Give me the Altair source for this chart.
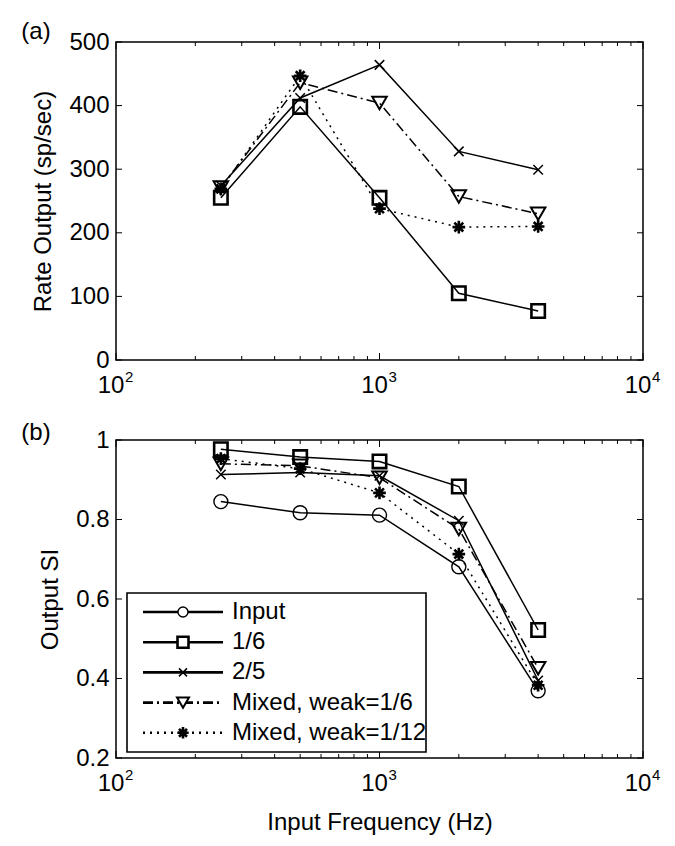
import altair as alt
import pandas as pd

# ---------------- data ----------------
freqs = [250, 500, 1000, 2000, 4000]

# (a) rate output, sp/sec
rate_1_6 = [255, 398, 255, 105, 77]
rate_2_5 = [274, 412, 464, 328, 299]
rate_mixed_6 = [271, 436, 404, 257, 230]
rate_mixed_12 = [269, 447, 238, 209, 210]

# (b) output SI
si_input = [0.845, 0.817, 0.811, 0.681, 0.369]
si_1_6 = [0.977, 0.957, 0.946, 0.883, 0.522]
si_2_5 = [0.913, 0.918, 0.910, 0.797, 0.395]
si_mixed_6 = [0.940, 0.935, 0.905, 0.776, 0.426]
si_mixed_12 = [0.953, 0.928, 0.867, 0.713, 0.383]

series_names = ["Input", "1/6", "2/5", "Mixed, weak=1/6", "Mixed, weak=1/12"]

x_major = [100, 1000, 10000]
x_bases = ["10", "10", "10"]
x_exponents = ["2", "3", "4"]
x_minor = [200, 300, 400, 500, 600, 700, 800, 900,
           2000, 3000, 4000, 5000, 6000, 7000, 8000, 9000]
rate_ticks = [0, 100, 200, 300, 400, 500]
si_ticks = [0.2, 0.4, 0.6, 0.8, 1.0]

# ---------------- styling ----------------
W, H = 527, 318
FONT = "Liberation Sans"
XPATH = "M-1,-1L1,1M-1,1L1,-1"
STARPATH = "M-1,0L1,0M0,-1L0,1M-0.7,-0.7L0.7,0.7M-0.7,0.7L0.7,-0.7"

STYLE = {
    "Input": dict(dash=None, shape="circle", size=196, sw=1.4, lsize=100),
    "1/6": dict(dash=None, shape="square", size=180, sw=2.6, lsize=121),
    "2/5": dict(dash=None, shape=XPATH, size=90, sw=1.5, lsize=64),
    "Mixed, weak=1/6": dict(dash=[10, 4, 2, 4], shape="triangle-down", size=210, sw=2.0, lsize=144),
    "Mixed, weak=1/12": dict(dash=[2, 5], shape=STARPATH, size=160, sw=2.6, lsize=130),
}

xs = alt.Scale(type="log", domain=[100, 10000])


def panel(series, y_domain, y_ticks, y_title, y_title_x, y_label_expr,
          panel_label, panel_label_y, x_title, with_legend):
    ys = alt.Scale(domain=y_domain, zero=False, nice=False)
    x_axis_kw = dict(values=x_major, labels=False,
                     ticks=False, domain=False, grid=False)
    if x_title:
        x_axis_kw.update(title=x_title, titleY=64, titleBaseline="middle")
    else:
        x_axis_kw.update(title=None)
    x_axis = alt.Axis(**x_axis_kw)
    y_axis = alt.Axis(values=y_ticks, labelExpr=y_label_expr, labelPadding=7,
                      ticks=False, domain=False, grid=False, title=y_title,
                      titleX=y_title_x, titleY=H / 2, titleAngle=-90,
                      titleBaseline="middle", titleAlign="center")

    def X():
        return alt.X("freq:Q", scale=xs, axis=x_axis)

    def Y():
        return alt.Y("val:Q", scale=ys, axis=y_axis)

    layers = []
    for name, vals in series:
        st = STYLE[name]
        df = pd.DataFrame({"freq": freqs, "val": vals})
        line_kw = dict(color="black", strokeWidth=1.5)
        if st["dash"]:
            line_kw["strokeDash"] = st["dash"]
        layers.append(alt.Chart(df).mark_line(**line_kw).encode(x=X(), y=Y()))
        layers.append(alt.Chart(df).mark_point(
            shape=st["shape"], size=st["size"], filled=False, color="black",
            strokeWidth=st["sw"], opacity=1).encode(x=X(), y=Y()))

    # inward ticks (MATLAB style)
    xmaj = pd.DataFrame({"freq": x_major})
    xmin = pd.DataFrame({"freq": x_minor})
    for d, L in ((xmaj, 7), (xmin, 4)):
        layers.append(alt.Chart(d).mark_rule(color="black", strokeWidth=1).encode(
            x=X(), y=alt.value(H), y2=alt.value(H - L)))
        layers.append(alt.Chart(d).mark_rule(color="black", strokeWidth=1).encode(
            x=X(), y=alt.value(0), y2=alt.value(L)))
    yt = pd.DataFrame({"val": y_ticks})
    layers.append(alt.Chart(yt).mark_rule(color="black", strokeWidth=1).encode(
        y=Y(), x=alt.value(0), x2=alt.value(6)))
    layers.append(alt.Chart(yt).mark_rule(color="black", strokeWidth=1).encode(
        y=Y(), x=alt.value(W), x2=alt.value(W - 6)))

    # 10^n tick labels: base and exponent
    lab = pd.DataFrame({"freq": x_major, "base": x_bases, "exp": x_exponents})
    layers.append(alt.Chart(lab).mark_text(
        align="center", baseline="top", fontSize=24, dx=-5, font=FONT, color="black").encode(
            x=X(), y=alt.value(H + 14), text="base:N"))
    layers.append(alt.Chart(lab).mark_text(
        align="left", baseline="top", fontSize=15, dx=9, font=FONT, color="black").encode(
            x=X(), y=alt.value(H + 10), text="exp:N"))

    # panel label
    layers.append(alt.Chart(pd.DataFrame({"t": [panel_label]})).mark_text(
        fontSize=24, font=FONT, color="black", align="center", baseline="middle").encode(
            x=alt.value(-80), y=alt.value(panel_label_y), text="t:N"))

    if with_legend:
        one = pd.DataFrame({"k": [0]})
        layers.append(alt.Chart(one).mark_rect(
            fill="white", stroke="black", strokeWidth=1.6).encode(
                x=alt.value(11), x2=alt.value(310), y=alt.value(153), y2=alt.value(312)))
        for i, name in enumerate(series_names):
            st = STYLE[name]
            yy = 172 + 30.2 * i
            rule_kw = dict(color="black", strokeWidth=2.6)
            if st["dash"]:
                rule_kw["strokeDash"] = st["dash"]
            layers.append(alt.Chart(one).mark_rule(**rule_kw).encode(
                x=alt.value(27), x2=alt.value(107), y=alt.value(yy)))
            layers.append(alt.Chart(one).mark_point(
                shape=st["shape"], size=st["lsize"], filled=False, color="black",
                fill="white" if name != "Mixed, weak=1/12" else "black",
                strokeWidth=st["sw"], opacity=1).encode(
                    x=alt.value(67), y=alt.value(yy)))
            layers.append(alt.Chart(pd.DataFrame({"t": [name]})).mark_text(
                fontSize=24, font=FONT, color="black", align="left", baseline="middle").encode(
                    x=alt.value(116), y=alt.value(yy), text="t:N"))

    return alt.layer(*layers).properties(width=W, height=H)


top = panel(
    [("1/6", rate_1_6), ("2/5", rate_2_5),
     ("Mixed, weak=1/6", rate_mixed_6), ("Mixed, weak=1/12", rate_mixed_12)],
    [0, 500], rate_ticks, "Rate Output (sp/sec)", -73, "format(datum.value, 'd')",
    "(a)", -10, None, False)

bottom = panel(
    [("Input", si_input), ("1/6", si_1_6), ("2/5", si_2_5),
     ("Mixed, weak=1/6", si_mixed_6), ("Mixed, weak=1/12", si_mixed_12)],
    [0.2, 1.0], si_ticks, "Output SI", -66,
    "datum.value == 1 ? '1' : format(datum.value, '.1f')",
    "(b)", -7, "Input Frequency (Hz)", True)

chart = alt.vconcat(top, bottom, spacing=80, bounds="flush").properties(
    padding={"left": 12, "top": 11, "right": 5, "bottom": 5},
    background="white",
).configure_view(stroke="black", strokeWidth=1.5).configure_axis(
    labelFont=FONT, labelFontSize=24, labelColor="black",
    titleFont=FONT, titleFontSize=24, titleColor="black", titleFontWeight="normal",
)

chart.save("out.html", embed_options={"renderer": "svg", "actions": False})
